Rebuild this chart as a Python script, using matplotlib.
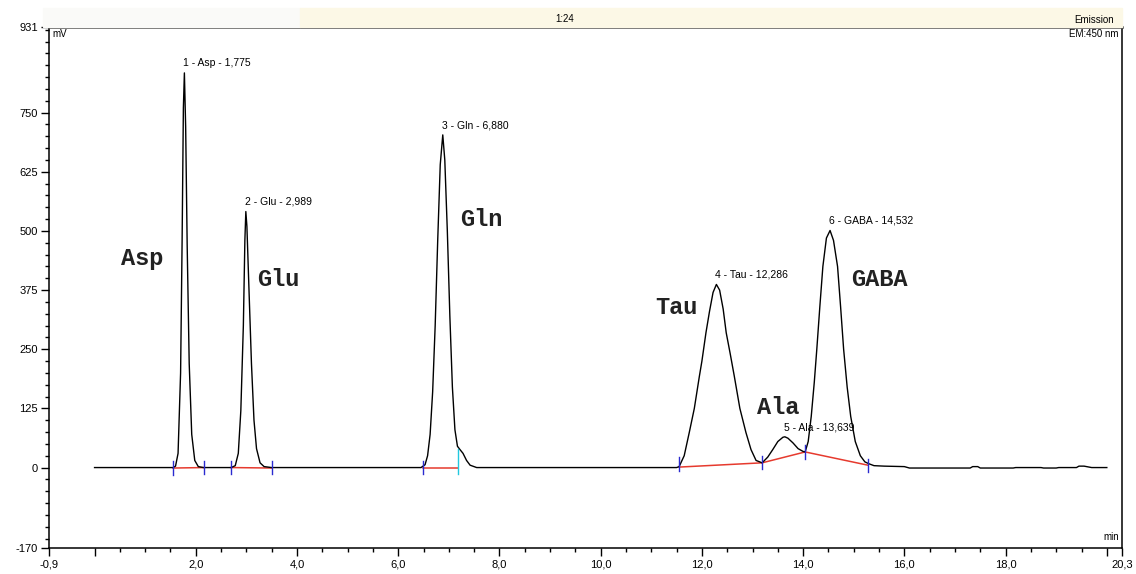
import matplotlib

matplotlib.use("Agg")
import matplotlib.pyplot as plt
from matplotlib.patches import Rectangle
import numpy as np


# detector trace, time in min and signal in mV
trace_time = [
    0.0, 1.50, 1.55, 1.60, 1.65, 1.70, 1.73, 1.755, 1.775, 1.80, 1.83, 1.87, 1.92, 1.98, 2.05, 2.15,
    2.70, 2.78, 2.84, 2.89, 2.94, 2.97, 2.989, 3.01, 3.05, 3.10, 3.15, 3.20, 3.27, 3.35, 3.50,
    6.45, 6.53, 6.58, 6.63, 6.68, 6.73, 6.78, 6.83, 6.88, 6.92, 6.97, 7.02, 7.07, 7.12, 7.17,
    7.22, 7.28, 7.35, 7.42, 7.55,
    11.50, 11.55, 11.65, 11.75, 11.85, 11.95, 12.00, 12.08, 12.15, 12.22, 12.286, 12.35, 12.42,
    12.48, 12.56, 12.64, 12.75, 12.87, 12.97, 13.07, 13.19,
    13.30, 13.40, 13.50, 13.60, 13.639, 13.70, 13.80, 13.90, 14.00, 14.04,
    14.10, 14.16, 14.22, 14.27, 14.33, 14.39, 14.46, 14.532, 14.60, 14.68, 14.74, 14.80,
    14.87, 14.94, 15.03, 15.13, 15.22, 15.30, 15.40, 15.60, 16.00, 16.10,
    17.30, 17.35, 17.45, 17.50, 18.15, 18.20, 18.70, 18.75, 19.00, 19.05, 19.40, 19.45, 19.55,
    19.60, 19.70, 20.00,
]
trace_mv = [
    0, 0, 0, 3, 30, 200, 480, 760, 834, 720, 470, 220, 70, 15, 2, 0,
    0, 4, 30, 120, 300, 480, 541, 510, 380, 220, 100, 40, 10, 2, 0,
    0, 6, 25, 70, 160, 300, 480, 640, 703, 650, 500, 320, 170, 80, 45,
    38, 30, 15, 5, 0,
    0, 2, 25, 74, 125, 193, 225, 285, 330, 370, 387, 375, 335,
    285, 240, 193, 125, 74, 38, 15, 10,
    22, 38, 55, 64, 65, 62, 52, 40, 34, 33,
    55, 108, 180, 250, 340, 425, 485, 501, 480, 425, 340, 250,
    170, 108, 55, 25, 12, 8, 4, 3, 2, -1,
    -1, 2, 2, -1, -1, 0, 0, -1, -1, 0, 0, 3, 3,
    2, 0, 0,
]

# integrated peaks
peak_num = [1, 2, 3, 4, 5, 6]
peak_name = ["Asp", "Glu", "Gln", "Tau", "Ala", "GABA"]
peak_rt = [1.775, 2.989, 6.880, 12.286, 13.639, 14.532]

# integration baselines: (start, end) time and (start, end) level
base_t0 = [1.55, 2.69, 6.49, 11.55, 13.19, 14.04]
base_t1 = [2.17, 3.51, 7.19, 13.19, 14.04, 15.28]
base_y0 = [-1, 0, 0, 1, 10, 33]
base_y1 = [0, -1, 0, 10, 33, 5]

xtick_pos = [-0.9, 0, 2, 4, 6, 8, 10, 12, 14, 16, 18, 20, 20.3]
xtick_lab = ["-0,9", "", "2,0", "4,0", "6,0", "8,0", "10,0", "12,0", "14,0", "16,0",
             "18,0", "", "20,3"]
ytick_pos = [-170, 0, 125, 250, 375, 500, 625, 750, 931]


def fmt_rt(v):
    return f"{v:.3f}".replace(".", ",")


W, H = 1136, 574
fig = plt.figure(figsize=(W / 100, H / 100), dpi=100)
ax = fig.add_axes([49 / W, 1 - 548 / H, (1122 - 49) / W, (548 - 27) / H])

# header strip above the plot frame
fig.patches.append(Rectangle((43 / W, 1 - 27 / H), (300 - 43) / W, 19 / H,
                             transform=fig.transFigure, color="#fafaf8", zorder=0))
fig.patches.append(Rectangle((300 / W, 1 - 27 / H), (1122 - 300) / W, 19 / H,
                             transform=fig.transFigure, color="#fcf8e6", zorder=0))
fig.text(565 / W, 1 - 19 / H, "1:24", ha="center", va="center", fontsize=7,
         family="Liberation Sans")
fig.text(1114 / W, 1 - 20 / H, "Emission", ha="right", va="center", fontsize=7,
         family="Liberation Sans")

ax.plot(trace_time, trace_mv, color="black", lw=1.0, zorder=3)

for t0, t1, y0, y1 in zip(base_t0, base_t1, base_y0, base_y1):
    ax.plot([t0, t1], [y0, y1], color="#e63a2e", lw=1.1, zorder=2)

# peak start / end markers
mark_t = sorted(set(base_t0 + base_t1))
for t in mark_t:
    y = np.interp(t, base_t0 + base_t1, base_y0 + base_y1)
    col = "#22c8e0" if t == 7.19 else "#2a2ad0"
    top = 40 if t == 7.19 else 14
    ax.plot([t, t], [y - 14, y + top], color=col, lw=1.0, zorder=4)

for n, name, rt in zip(peak_num, peak_name, peak_rt):
    h = np.interp(rt, trace_time, trace_mv)
    ax.text(rt - 0.02, h + 10, f"{n} - {name} - {fmt_rt(rt)}", ha="left", va="bottom",
            fontsize=7.5, family="Liberation Sans", zorder=5)

# compound names next to the peaks
names_xy = {"Asp": (0.95, 441), "Glu": (3.63, 397), "Gln": (7.64, 524),
            "Tau": (11.49, 338), "GABA": (15.50, 397), "Ala": (13.50, 127)}
for name, (x, y) in names_xy.items():
    ax.text(x, y, name, ha="center", va="center", fontsize=17, fontweight="bold",
            family="Liberation Mono", color="#222222", zorder=5)

ax.text(0.003, 0.997, "mV", transform=ax.transAxes, ha="left", va="top", fontsize=7,
        family="Liberation Sans")
ax.text(0.997, 0.997, "EM:450 nm", transform=ax.transAxes, ha="right", va="top",
        fontsize=7, family="Liberation Sans")
ax.text(0.997, 0.012, "min", transform=ax.transAxes, ha="right", va="bottom",
        fontsize=7, family="Liberation Sans")

ax.set_xlim(-0.9, 20.3)
ax.set_ylim(-170, 931)
ax.set_xticks(xtick_pos)
ax.set_xticklabels(xtick_lab)
ax.set_xticks(np.arange(0.5, 20.0, 0.5), minor=True)
ax.set_yticks(ytick_pos)
ax.set_yticklabels([str(v) for v in ytick_pos])
ax.set_yticks(np.arange(-150, 931, 25), minor=True)

ax.tick_params(which="major", direction="out", length=6, width=1.0, labelsize=8,
               pad=2)
ax.tick_params(which="minor", direction="out", length=3, width=1.0)
for lab in ax.get_xticklabels() + ax.get_yticklabels():
    lab.set_family("Liberation Sans")

for side in ["left", "bottom", "right"]:
    ax.spines[side].set_linewidth(1.1)
ax.spines["top"].set_linewidth(1.8)
ax.spines["top"].set_color("#333333")

fig.savefig("out.png", dpi=100)
